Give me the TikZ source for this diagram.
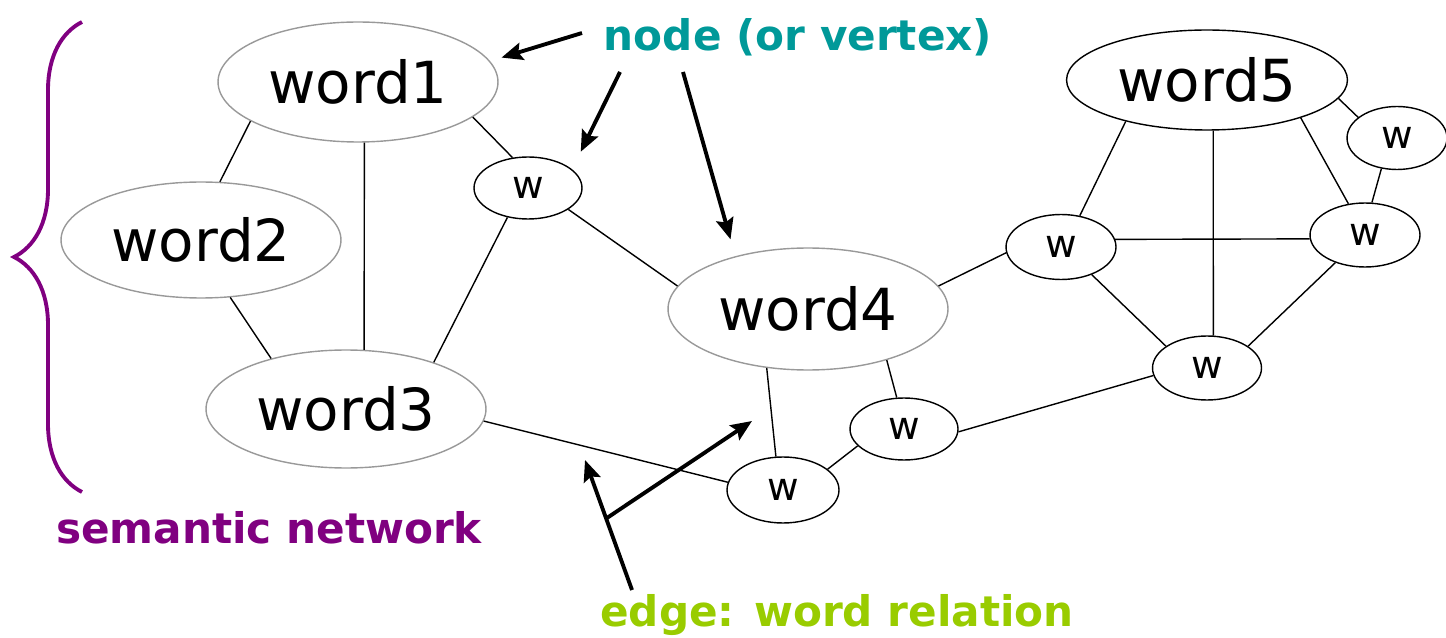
\documentclass[tikz,border=0pt]{standalone}
\usepackage{fontspec}
\setmainfont{DejaVu Sans}
\usepackage{tikz}
\usetikzlibrary{positioning,shapes,arrows.meta,calc,decorations.pathreplacing}
\definecolor{colNode}{HTML}{009999}
\definecolor{colNet}{HTML}{800080}
\definecolor{colEdge}{HTML}{99CC00}
\definecolor{colRim}{HTML}{999999}
\tikzstyle{styWord}=[ellipse,draw=colRim,line width=0.8pt,inner sep=0pt,minimum width=5.6cm,minimum height=2.4cm,font=\fontsize{33}{40}\selectfont]
\tikzstyle{styW}=[ellipse,draw=black,line width=0.8pt,inner sep=0pt,minimum width=2.2cm,minimum height=1.28cm,font=\fontsize{22}{26}\selectfont]
\tikzstyle{styLab}=[inner sep=0pt,font=\fontsize{24}{29}\selectfont\bfseries]
\tikzstyle{myline}=[line width=0.8pt]
\tikzstyle{myarrow}=[-{Stealth[length=12pt,width=10pt,inset=2pt]},line width=2.2pt]

\begin{document}
\begin{tikzpicture}[x=0.02cm,y=-0.02cm]
\useasboundingbox (0,0) rectangle (1446,638);

\node[styWord] (nodWord1) at (358,82) {word1};
\node[styWord,minimum height=2.32cm] (nodWord2) at (201,240) {word2};
\node[styWord,minimum height=2.36cm] (nodWord3) at (346,409) {word3};
\node[styWord,minimum height=2.44cm] (nodWord4) at (808,309) {word4};
\node[styWord,draw=black,minimum width=5.62cm,minimum height=2cm] (nodWord5) at (1207,80) {word5};

\node[styW,minimum width=2.16cm,minimum height=1.24cm] (nodWa) at (528,188) {w};
\node[styW,minimum width=2.24cm,minimum height=1.32cm] (nodWb) at (783,490) {w};
\node[styW,minimum width=2.16cm,minimum height=1.24cm] (nodWc) at (904,429) {w};
\node[styW,minimum height=1.3cm] (nodWd) at (1061,247) {w};
\node[styW,minimum width=2.18cm] (nodWe) at (1207,368) {w};
\node[styW] (nodWf) at (1365,235) {w};
\node[styW,minimum width=2cm,minimum height=1.26cm] (nodWg) at (1397,138) {w};

\draw[myline] (nodWord1.200) -- (nodWord2.72);
\draw[myline] (nodWord1.276) -- (nodWord3.73);
\draw[myline] (nodWord1.343) -- (nodWa.117);
\draw[myline] (nodWord2.297) -- (nodWord3.146);
\draw[myline] (nodWa.235) -- (nodWord3.28);
\draw[myline] (nodWa.332) -- (nodWord4.170);
\draw[myline] (nodWord3.355) -- (nodWb.172);
\draw[myline] (nodWord4.235) -- (nodWb.102);
\draw[myline] (nodWord4.327) -- (nodWc.103);
\draw[myline] (nodWb.25) -- (nodWc.200);
\draw[myline] (nodWc.357) -- (nodWe.188);
\draw[myline] (nodWord4.10) -- (nodWd.186);
\draw[myline] (nodWd.59) -- (nodWord5.207);
\draw[myline] (nodWord5.277) -- (nodWe.79);
\draw[myline] (nodWd.8) -- (nodWf.184);
\draw[myline] (nodWd.318) -- (nodWe.152);
\draw[myline] (nodWf.223) -- (nodWe.28);
\draw[myline] (nodWord5.338) -- (nodWf.118);
\draw[myline] (nodWord5.352) -- (nodWg.152);
\draw[myline] (nodWg.243) -- (nodWf.78);

% labels
\node[styLab,text=colNode] (nodLabNode) at (798,37) {node (or vertex)};
\node[styLab,text=colNet] (nodLabNet) at (269,528) {semantic network};
\node[styLab,text=colEdge] (nodLabEdge) at (837,615) {edge: word relation};

\draw[colNet,line width=2.2pt,decorate,decoration={brace,amplitude=1.36cm}] (82,492) -- (82,22);

\coordinate (ptNodeA) at (582,33);
\coordinate (ptNodeB) at (620,72);
\coordinate (ptNodeC) at (683,72);
\draw[myarrow,shorten >=0.24cm] (ptNodeA) -- (nodWord1.9.4);
\draw[myarrow,shorten >=0.39cm] (ptNodeB) -- (nodWa.23);
\draw[myarrow,shorten >=0.35cm] (ptNodeC) -- (nodWord4.144.5);

\coordinate (ptEdge) at (632,590);
\coordinate (ptEdgeA) at (585,460);
\coordinate (ptEdgeB) at (752,421);
\coordinate (ptFork) at ($(ptEdge)!0.55!(ptEdgeA)$);
\draw[myarrow] (ptEdge) -- (ptEdgeA);
\draw[myarrow] (ptFork) -- (ptEdgeB);
\end{tikzpicture}
\end{document}
